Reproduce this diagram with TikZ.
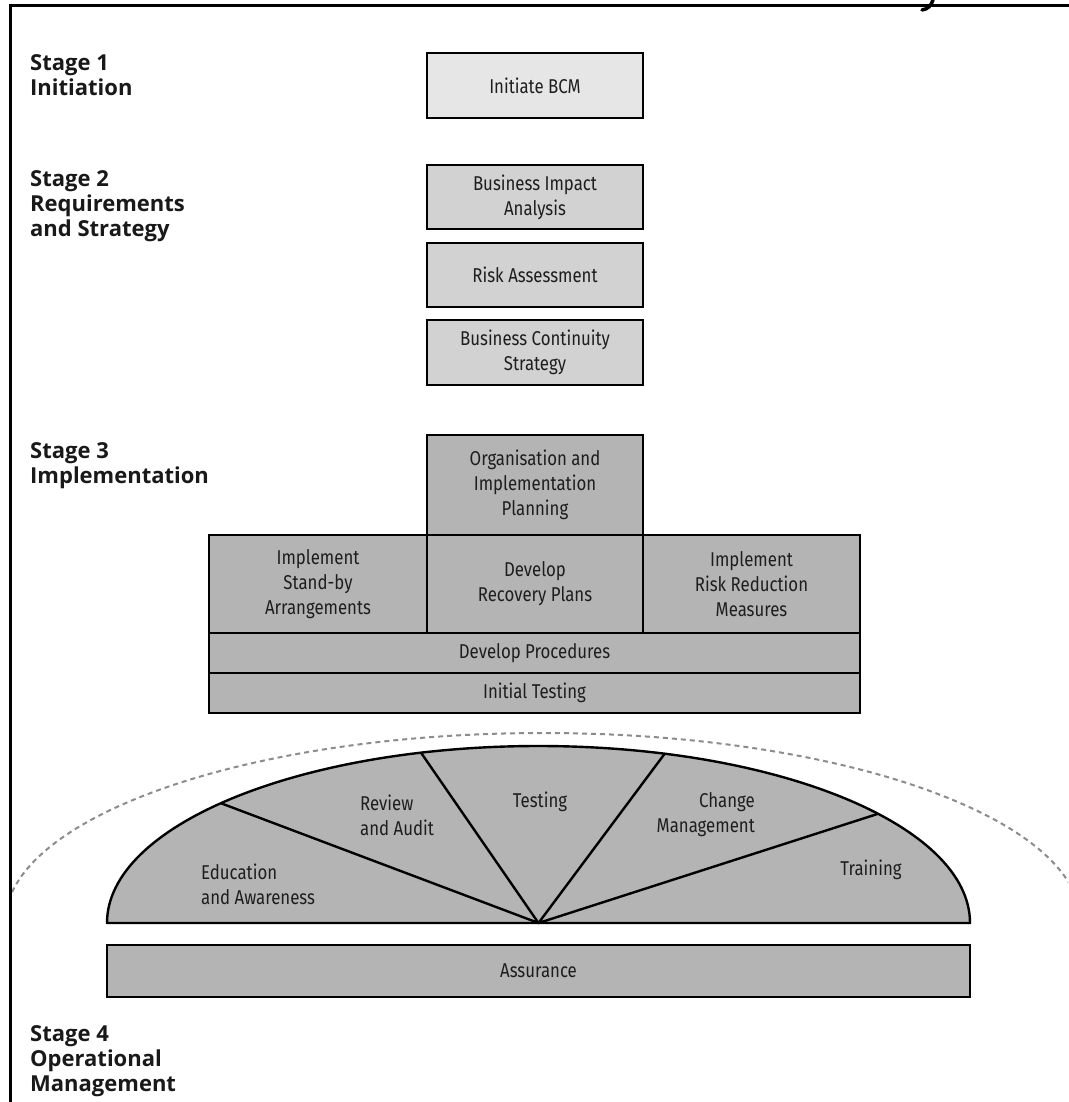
\documentclass[tikz,border=0pt]{standalone}
\usepackage{fontspec}
\usetikzlibrary{calc}
\setmainfont{Fira Sans}
\newfontfamily\boxfont[FakeStretch=0.84]{Fira Sans}
\newfontfamily\stagefont{Open Sans}
\definecolor{fillA}{HTML}{E6E6E6}
\definecolor{fillB}{HTML}{D2D2D2}
\definecolor{fillC}{HTML}{B4B4B4}
\definecolor{txt}{HTML}{1E1E1E}
\definecolor{dashgray}{HTML}{8C8C8C}
\begin{document}
\begin{tikzpicture}[x=1pt,y=-1pt,
  frameline/.style={line width=3pt, draw=black, line cap=rect},
  blk/.style={draw=black, line width=2.4pt, inner sep=0pt, outer sep=0pt,
    anchor=north west, align=center, text=txt,
    font=\boxfont\fontsize{20}{25}\selectfont},
  lbl/.style={inner sep=0pt, text=txt, font=\boxfont\fontsize{20}{25}\selectfont},
  stagelbl/.style={anchor=north west, align=left, inner sep=0pt, text=black!90,
    font=\stagefont\bfseries\fontsize{22}{25}\selectfont},
  outline/.style={draw=black, line width=2.4pt, line join=round},
  dashring/.style={draw=dashgray, line width=2pt, dash pattern=on 5pt off 4pt}
]
\useasboundingbox (0,0) rectangle (1068,1102);
\fill[white] (0,0) rectangle (1068,1102);

% frame
\coordinate (fbl) at (10,1102);
\coordinate (ftl) at (10,6);
\coordinate (ftr) at (1068,6);
\draw[frameline] (fbl) -- (ftl) -- (ftr);
% fragment of cut-off glyph at the top
\draw[line width=3.5pt, line cap=round] (933,0) .. controls (931,6) and (928,9) .. (922,10);

% stage labels
\node[stagelbl] (s1) at (30,54) {Stage 1\\Initiation};
\node[stagelbl] (s2) at (30,170) {Stage 2\\Requirements\\and Strategy};
\node[stagelbl] (s3) at (30,442) {Stage 3\\Implementation};
\node[stagelbl] (s4) at (30,1025) {Stage 4\\Operational\\Management};

% stage 1 and 2
\node[blk, fill=fillA, minimum width=216pt, minimum height=65pt] (bcm) at (427,53) {Initiate BCM};
\node[blk, fill=fillB, minimum width=216pt, minimum height=64pt] (bia) at (427,165) {Business Impact\\Analysis};
\node[blk, fill=fillB, minimum width=216pt, minimum height=64pt] (ra) at (427,243) {Risk Assessment};
\node[blk, fill=fillB, minimum width=216pt, minimum height=65pt] (bcs) at (427,320) {Business Continuity\\Strategy};

% stage 3
\node[blk, fill=fillC, minimum width=216pt, minimum height=100pt] (org) at (427,435) {Organisation and\\Implementation\\Planning};
\node[blk, fill=fillC, minimum width=218pt, minimum height=98pt] (sb) at (209,535) {Implement\\Stand-by\\Arrangements};
\node[blk, fill=fillC, minimum width=216pt, minimum height=98pt] (drp) at (427,535) {Develop\\Recovery Plans};
\node[blk, fill=fillC, minimum width=217pt, minimum height=98pt] (rrm) at (643,535) {Implement\\Risk Reduction\\Measures};
\node[blk, fill=fillC, minimum width=651pt, minimum height=40pt] (proc) at (209,633) {Develop Procedures};
\node[blk, fill=fillC, minimum width=651pt, minimum height=40pt] (itest) at (209,673) {Initial Testing};

% stage 4: dashed ring
\begin{scope}
  \clip (12,0) rectangle (1068,900);
  \draw[dashring] (543,923) ellipse [x radius=538, y radius=190];
\end{scope}

% dome
\coordinate (hub) at (538.5,923);
\filldraw[outline, fill=fillC] (107,923) arc[start angle=180, end angle=360, x radius=431.5, y radius=177] -- cycle;
\coordinate (p1) at ($(hub)+(222.6:431.5 and 177)$);
\coordinate (p2) at ($(hub)+(254.2:431.5 and 177)$);
\coordinate (p3) at ($(hub)+(287:431.5 and 177)$);
\coordinate (p4) at ($(hub)+(321.9:431.5 and 177)$);
\draw[outline] (p1) -- (hub) -- (p2);
\draw[outline] (p3) -- (hub) -- (p4);

\node[lbl, align=left, anchor=west] (edu) at (201,884) {Education\\and Awareness};
\node[lbl, align=left, anchor=west] (rev) at (360,815) {Review\\and Audit};
\node[lbl] (tst) at (540,802) {Testing};
\node[lbl, align=right, anchor=east] (chg) at (755,815) {Change\\Management};
\node[lbl] (trn) at (871,870) {Training};

\node[blk, fill=fillC, minimum width=863pt, minimum height=52pt] (assur) at (107,945) {Assurance};
\end{tikzpicture}
\end{document}
